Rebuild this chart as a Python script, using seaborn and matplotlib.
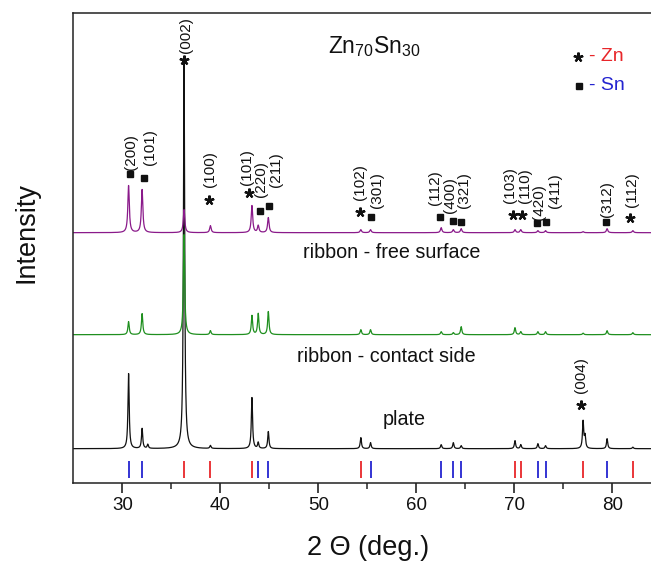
import numpy as np
import pandas as pd
import matplotlib
matplotlib.use("Agg")
import matplotlib.pyplot as plt
import seaborn as sns

# ---- reference reflection positions, 2-theta (deg) ----
zn_pos = [36.30, 38.99, 43.23, 54.34, 70.07, 70.66, 77.02, 82.10]
sn_pos = [30.64, 32.02, 43.87, 44.90, 55.33, 62.54, 63.78, 64.58, 72.41, 73.19, 79.47]

# ---- observed peaks in each pattern: position and height above baseline ----
plate_theta = [30.64, 32.02, 32.60, 36.30, 38.99, 43.23, 43.87, 44.90, 54.34, 55.33,
               62.54, 63.78, 64.58, 70.07, 70.66, 72.41, 73.19, 77.02, 77.22, 79.47, 82.10]
plate_height = [75, 20, 4, 386, 3, 51, 6, 17, 11, 6,
                4, 6, 3, 8, 4, 5, 3, 27, 12, 10, 1.5]

contact_theta = [30.64, 32.02, 36.30, 38.99, 43.23, 43.87, 44.90, 54.34, 55.33, 62.54,
                 63.78, 64.58, 70.07, 70.66, 72.41, 73.19, 77.02, 79.47, 82.10]
contact_height = [13, 21, 100, 4, 19, 21, 23, 5, 5, 3,
                  2, 8, 7, 3, 3, 3, 1.5, 4, 2]

free_theta = [30.64, 32.02, 36.30, 38.99, 43.23, 43.87, 44.90, 54.34, 55.33, 62.54,
              63.78, 64.58, 70.07, 70.66, 72.41, 73.19, 77.02, 79.47, 82.10]
free_height = [47, 43, 23, 7, 27, 7, 15, 3, 3, 5,
               3, 4, 3, 3, 2, 2, 1, 4, 2]

# vertical offsets of the stacked patterns
baselines = {"plate": 34, "contact": 148, "free": 250}
sample_names = ["plate", "contact", "free"]
sample_text = ["plate", "ribbon - contact side", "ribbon - free surface"]

# ---- build the profiles (Lorentzian line shapes) ----
two_theta = np.arange(25.0, 85.0, 0.01)


def profile(centres, heights, fwhm):
    y = np.zeros_like(two_theta)
    for c, h in zip(centres, heights):
        y += h / (1.0 + ((two_theta - c) / (fwhm / 2.0)) ** 2)
    return y


frames = []
for name, th, hh, w in [("plate", plate_theta, plate_height, 0.15),
                        ("contact", contact_theta, contact_height, 0.16),
                        ("free", free_theta, free_height, 0.18)]:
    frames.append(pd.DataFrame({"two_theta": two_theta,
                                "intensity": baselines[name] + profile(th, hh, w),
                                "sample": name}))
df = pd.concat(frames, ignore_index=True)

# ---- style ----
sns.set_theme(style="white")
plt.rcParams["font.family"] = ["Liberation Sans", "DejaVu Sans"]
plt.rcParams["mathtext.fontset"] = "custom"
plt.rcParams["mathtext.rm"] = "Liberation Sans"
plt.rcParams["mathtext.it"] = "Liberation Sans:italic"

fig = plt.figure(figsize=(6.51, 5.65), dpi=100)
ax = fig.add_axes([0.1126, 0.1457, 0.9032, 0.8308])

palette = {"plate": "#111111", "contact": "#1f8f1f", "free": "#8a1a8a"}
sns.lineplot(data=df, x="two_theta", y="intensity", hue="sample",
             hue_order=sample_names, palette=palette, linewidth=0.9,
             estimator=None, sort=False, legend=False, ax=ax)

# reference stick markers
ax.vlines(zn_pos, 4.7, 22, color="#e8262a", lw=1.3)
ax.vlines(sn_pos, 4.7, 22, color="#2424d0", lw=1.3)

ax.set_xlim(25, 85)
ax.set_ylim(0, 469.4)
ax.set_xticks([30, 40, 50, 60, 70, 80])
ax.set_xticks(np.arange(35, 85, 10), minor=True)
ax.set_yticks([])
ax.tick_params(axis="x", which="major", direction="out", length=7.5, width=1.1,
               labelsize=13.5, pad=3, colors="#111111", bottom=True)
ax.tick_params(axis="x", which="minor", direction="out", length=4, width=1.1, bottom=True)
for side in ["left", "bottom", "top"]:
    ax.spines[side].set_color("#222222")
    ax.spines[side].set_linewidth(1.1)
ax.spines["right"].set_visible(False)

ax.set_xlabel("2 \u0398 (deg.)", fontsize=19.5, color="#111111")
ax.xaxis.label.set(va="center")
ax.xaxis.set_label_coords(0.5006, -0.139)
ax.set_ylabel("Intensity", fontsize=19.5, color="#111111")
ax.yaxis.label.set(rotation_mode="default", va="center", ha="center")
ax.yaxis.set_label_coords(-0.0788, 0.534)

# sample labels
label_pos = [(56.56, 62.7), (47.79, 126.0), (48.43, 229.7)]
for txt, (x, y) in zip(sample_text, label_pos):
    ax.text(x, y, txt, fontsize=14.2, color="#111111", ha="left", va="center")

# composition
ax.text(55.7, 436, "Zn$_{70}$Sn$_{30}$", fontsize=16.5, color="#111111",
        ha="center", va="center")

# phase key
ax.plot([76.49], [426], marker=(5, 2, 0), ms=7, mew=1.6, color="#111111")
ax.text(77.61, 426, "- Zn", fontsize=14, color="#e8262a", ha="left", va="center")
ax.plot([76.59], [396.7], marker="s", ms=4.5, color="#111111")
ax.text(77.61, 396.7, "- Sn", fontsize=14, color="#2424d0", ha="left", va="center")

# Miller index annotations: label, phase, marker (x, y), text (x, y bottom)
hkl_marks = [
    ("(200)", "Sn", 30.74, 308.7, 30.85, 312.7),
    ("(101)", "Sn", 32.17, 304.7, 32.84, 317.7),
    ("(002)", "Zn", 36.29, 422.7, 36.53, 429.4),
    ("(100)", "Zn", 38.84, 282.7, 38.99, 295.7),
    ("(101)", "Zn", 42.92, 289.4, 42.77, 297.7),
    ("(220)", "Sn", 44.08, 272.0, 44.18, 286.0),
    ("(211)", "Sn", 44.96, 276.7, 45.71, 296.0),
    ("(102)", "Zn", 54.21, 271.0, 54.21, 282.7),
    ("(301)", "Sn", 55.41, 265.4, 56.00, 274.4),
    ("(112)", "Sn", 62.38, 266.0, 61.95, 277.7),
    ("(400)", "Sn", 63.73, 262.0, 63.42, 269.4),
    ("(321)", "Sn", 64.52, 261.0, 64.84, 274.4),
    ("(103)", "Zn", 69.86, 267.7, 69.52, 279.4),
    ("(110)", "Zn", 70.82, 267.7, 71.13, 279.4),
    ("(420)", "Sn", 72.31, 260.0, 72.50, 262.7),
    ("(411)", "Sn", 73.19, 261.0, 74.19, 274.4),
    ("(312)", "Sn", 79.39, 261.0, 79.47, 266.0),
    ("(112)", "Zn", 81.77, 264.4, 82.02, 276.0),
    ("(004)", "Zn", 76.78, 77.7, 76.84, 89.4),
]
for lab, phase, mx, my, tx, ty in hkl_marks:
    if phase == "Zn":
        ax.plot([mx], [my], marker=(5, 2, 0), ms=7, mew=1.6, color="#111111")
    else:
        ax.plot([mx], [my], marker="s", ms=4.5, color="#111111")
    ax.text(tx, ty, lab, rotation=90, fontsize=11, color="#111111",
            ha="center", va="bottom")

fig.savefig("out.png", dpi=100)
